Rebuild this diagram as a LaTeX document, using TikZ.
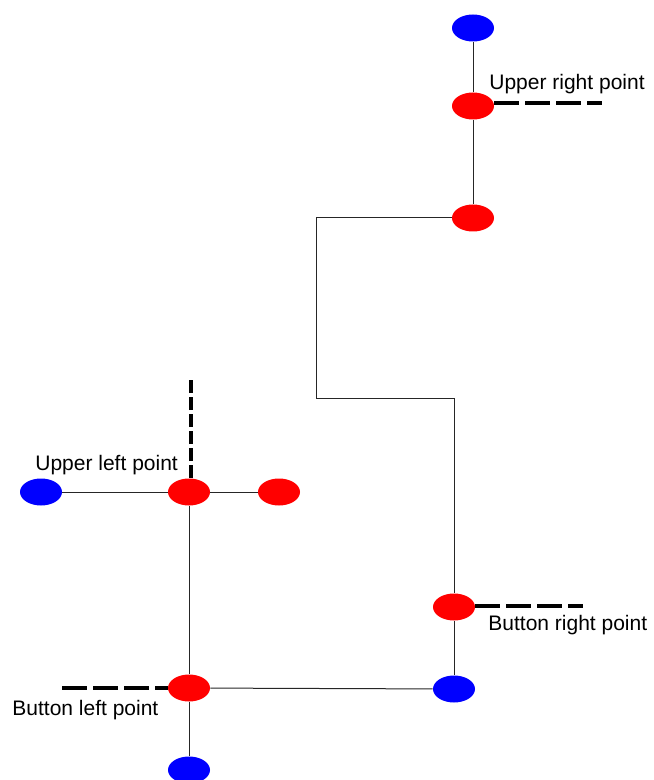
\documentclass[tikz,border=0pt]{standalone}
\usepackage{fontspec}
\setmainfont{Liberation Sans}
\usetikzlibrary{shapes.geometric}

\begin{document}
\begin{tikzpicture}[x=0.5pt, y=-0.5pt,
    dot/.style={ellipse, minimum width=21pt, minimum height=13.5pt, inner sep=0pt},
    red dot/.style={dot, fill=red},
    blue dot/.style={dot, fill=blue},
    wire/.style={line width=0.5pt, black!85},
    hatch/.style={line width=2.4pt, dash pattern=on 12.5pt off 3pt},
    tag/.style={font=\fontsize{10.5}{12}\selectfont, inner sep=0pt}]
\useasboundingbox (0,0) rectangle (653,780);

% points
\node[blue dot] (b1) at (473,28) {};
\node[red dot] (r1) at (473,106) {};
\node[red dot] (r2) at (473,218) {};
\node[red dot] (r3) at (454,607) {};
\node[blue dot] (b2) at (454,689) {};
\node[red dot] (r4) at (189,688) {};
\node[blue dot] (b3) at (189,770) {};
\node[red dot] (r5) at (189,492) {};
\node[blue dot] (b4) at (41,492) {};
\node[red dot] (r6) at (279,492) {};

% bends of the long wire
\coordinate (bend1) at (316,218);
\coordinate (bend2) at (316,398);

\draw[wire] (b1) -- (r1) -- (r2);
\draw[wire] (r2) -- (bend1) -- (bend2) -| (r3);
\draw[wire] (r3) -- (b2);
\draw[wire] (r4) -- (b2);
\draw[wire] (r4) -- (b3);
\draw[wire] (b4) -- (r5) -- (r6);
\draw[wire] (r5) -- (r4);

% marked ends
\coordinate (ur tip) at (602,103);
\coordinate (br tip) at (583,606);
\coordinate (bl tip) at (62,688);
\coordinate (ul tip) at (191,378);
\draw[hatch] (r1.east |- ur tip) -- (ur tip);
\draw[hatch] (r3.east |- br tip) -- (br tip);
\draw[hatch] (bl tip) -- (r4.west);
\draw[hatch, dash pattern=on 6.5pt off 2pt] (ul tip |- r5.north) -- (ul tip);

\node[tag, anchor=base west] (ur text) at (489,90) {Upper right point};
\node[tag, anchor=base west] (ul text) at (35,470) {Upper left point};
\node[tag, anchor=base west] (br text) at (488,630) {Button right point};
\node[tag, anchor=base west] (bl text) at (12,715) {Button left point};
\end{tikzpicture}
\end{document}
